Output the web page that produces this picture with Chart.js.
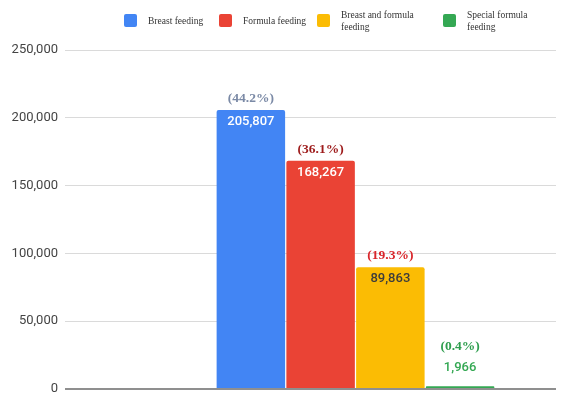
<!DOCTYPE html>
<html>
<head>
<meta charset="utf-8">
<script src="https://cdn.jsdelivr.net/npm/chart.js@4.4.0/dist/chart.umd.min.js"></script>
<style>
  body { margin: 0; background: #fff; }
  #wrap { position: relative; width: 570px; height: 399px; }
  #legend { position: absolute; left: 0; top: 0; width: 570px; height: 40px; }
  .item { position: absolute; top: 10px; height: 24px; display: flex; align-items: center; }
  .box { width: 13px; height: 13px; border-radius: 2px; position: relative; top: -1.5px; margin-right: 11px; flex: none; }
  .txt { font: 9.5px/11.6px "Liberation Serif", serif; color: #333; max-width: 76px; }
</style>
</head>
<body>
<div id="wrap">
  <canvas id="chart" width="570" height="399"></canvas>
  <div id="legend"></div>
</div>
<script>
const categories = ['Breast feeding', 'Formula feeding', 'Breast and formula feeding', 'Special formula feeding'];
const counts = [205807, 168267, 89863, 1966];
const yTicks = [0, 50000, 100000, 150000, 200000, 250000];

const barColors = ['#4285f4', '#ea4335', '#fbbc04', '#34a853'];
const valueColors = ['#ffffff', '#ffffff', '#3c3c3c', '#34a853'];
const pctColors = ['#7b8aa6', '#9e1b1b', '#d9262b', '#2f9e4f'];
const legendLeft = [124, 219, 317, 443];

const total = counts.reduce((a, b) => a + b, 0);

// legend
categories.forEach((name, i) => {
    const el = document.createElement('div');
    el.className = 'item';
    el.style.left = legendLeft[i] + 'px';
    el.innerHTML = `<span class="box" style="background:${barColors[i]}"></span><span class="txt">${name}</span>`;
    document.getElementById('legend').appendChild(el);
});

const barLabels = {
    id: 'barLabels',
    afterDatasetsDraw(chart) {
        const ctx = chart.ctx;
        ctx.save();
        ctx.textAlign = 'center';
        ctx.textBaseline = 'middle';
        chart.data.datasets.forEach((ds, i) => {
            const bar = chart.getDatasetMeta(i).data[0];
            const inside = bar.base - bar.y > 30;
            const valueY = inside ? bar.y + 12 : bar.y - 19;
            const pctY = inside ? bar.y - 11.5 : valueY - 20.5;
            ctx.font = '500 13px Roboto, "Liberation Sans", sans-serif';
            ctx.fillStyle = valueColors[i];
            ctx.fillText(counts[i].toLocaleString('en-US'), bar.x, valueY);
            ctx.font = 'bold 13.5px "Liberation Serif", serif';
            ctx.fillStyle = pctColors[i];
            ctx.fillText('(' + (counts[i] / total * 100).toFixed(1) + '%)', bar.x, pctY);
        });
        ctx.restore();
    }
};

new Chart(document.getElementById('chart'), {
    type: 'bar',
    data: {
        datasets: categories.map((name, i) => ({
            label: name,
            data: [{ x: i, y: counts[i] }],
            backgroundColor: barColors[i],
            borderRadius: { topLeft: 2, topRight: 2 },
            borderSkipped: 'bottom'
        }))
    },
    options: {
        responsive: false,
        animation: false,
        layout: { padding: { top: 50, right: 14, bottom: 10, left: 0 } },
        datasets: { bar: { grouped: false, categoryPercentage: 1, barPercentage: 0.982 } },
        scales: {
            x: {
                type: 'linear', min: -2.665, max: 4.375,
                display: false, offset: false,
                ticks: { stepSize: 1, includeBounds: false }
            },
            y: {
                min: yTicks[0], max: yTicks[yTicks.length - 1],
                afterFit: scale => {
                    scale.width = 65;
                    scale.paddingTop = 0;
                    scale.paddingBottom = 0;
                },
                afterBuildTicks: scale => { scale.ticks = yTicks.map(v => ({ value: v })); },
                ticks: {
                    padding: 7,
                    color: '#444',
                    font: { family: 'Roboto, "Liberation Sans", sans-serif', size: 13 },
                    callback: v => v.toLocaleString('en-US')
                },
                grid: {
                    drawTicks: false,
                    color: c => c.tick.value === 0 ? '#8f8f8f' : '#dadada',
                    lineWidth: c => c.tick.value === 0 ? 2 : 1
                },
                border: { display: false }
            }
        },
        plugins: { legend: { display: false }, tooltip: { enabled: false } }
    },
    plugins: [barLabels]
});
</script>
</body>
</html>
